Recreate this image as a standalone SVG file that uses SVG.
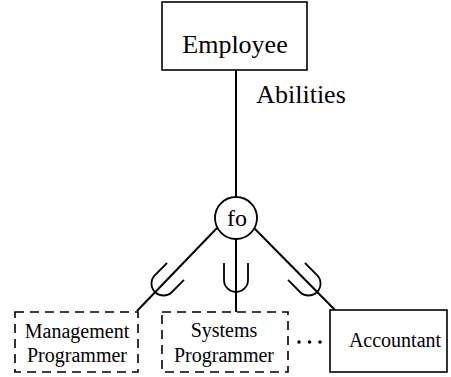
<svg xmlns="http://www.w3.org/2000/svg" width="451" height="377" viewBox="0 0 451 377">
<style>
text{font-family:'Liberation Serif','Times New Roman','DejaVu Serif',serif;fill:#000;text-anchor:middle}
.box{fill:#fff;stroke:#000;stroke-width:1.6}
.dash{fill:#fff;stroke:#000;stroke-width:1.6;stroke-dasharray:9 6}
.ln{stroke:#000;stroke-width:2;fill:none}
.cup{stroke:#000;stroke-width:1.8;fill:none}
</style>
<defs>
<path id="cup" class="cup" d="M-12,-29 V-12 A12,12 0 0 0 12,-12 V-29"/>
</defs>
<rect width="451" height="377" fill="#fff"/>
<g id="connectors">
<line class="ln" x1="236" y1="70" x2="236" y2="197"/>
<line class="ln" x1="217" y1="228" x2="137" y2="311"/>
<line class="ln" x1="236" y1="239" x2="236" y2="312"/>
<line class="ln" x1="254" y1="228" x2="335" y2="310"/>
<use href="#cup" transform="translate(155,292) rotate(45)"/>
<use href="#cup" transform="translate(236,292)"/>
<use href="#cup" transform="translate(317,292) rotate(-45)"/>
<text x="301" y="103" font-size="26" font-family="'Liberation Serif', 'Times New Roman', serif">Abilities</text>
</g>
<g id="employee">
<rect class="box" x="162" y="2" width="145" height="68"/>
<text x="235" y="53" font-size="26" font-family="'Liberation Serif', 'Times New Roman', serif">Employee</text>
</g>
<g id="fo">
<circle cx="236" cy="218" r="21" fill="#fff" stroke="#000" stroke-width="1.8"/>
<text x="237" y="226" font-size="24" font-family="'Liberation Serif', 'Times New Roman', serif">fo</text>
</g>
<g id="management-programmer">
<rect class="dash" x="15" y="312" width="123" height="60"/>
<text x="77" y="338" font-size="20" font-family="'Liberation Serif', 'Times New Roman', serif">Management</text>
<text x="77" y="362" font-size="20" font-family="'Liberation Serif', 'Times New Roman', serif">Programmer</text>
</g>
<g id="systems-programmer">
<rect class="dash" x="162" y="312" width="126" height="60"/>
<text x="224" y="337" font-size="20" font-family="'Liberation Serif', 'Times New Roman', serif">Systems</text>
<text x="224" y="362" font-size="20" font-family="'Liberation Serif', 'Times New Roman', serif">Programmer</text>
</g>
<g id="ellipsis">
<circle cx="299" cy="342" r="1.8"/>
<circle cx="309.5" cy="342" r="1.8"/>
<circle cx="320" cy="342" r="1.8"/>
</g>
<g id="accountant">
<rect class="box" x="330" y="310" width="117" height="62"/>
<text x="395" y="347" font-size="20" font-family="'Liberation Serif', 'Times New Roman', serif">Accountant</text>
</g>
</svg>
